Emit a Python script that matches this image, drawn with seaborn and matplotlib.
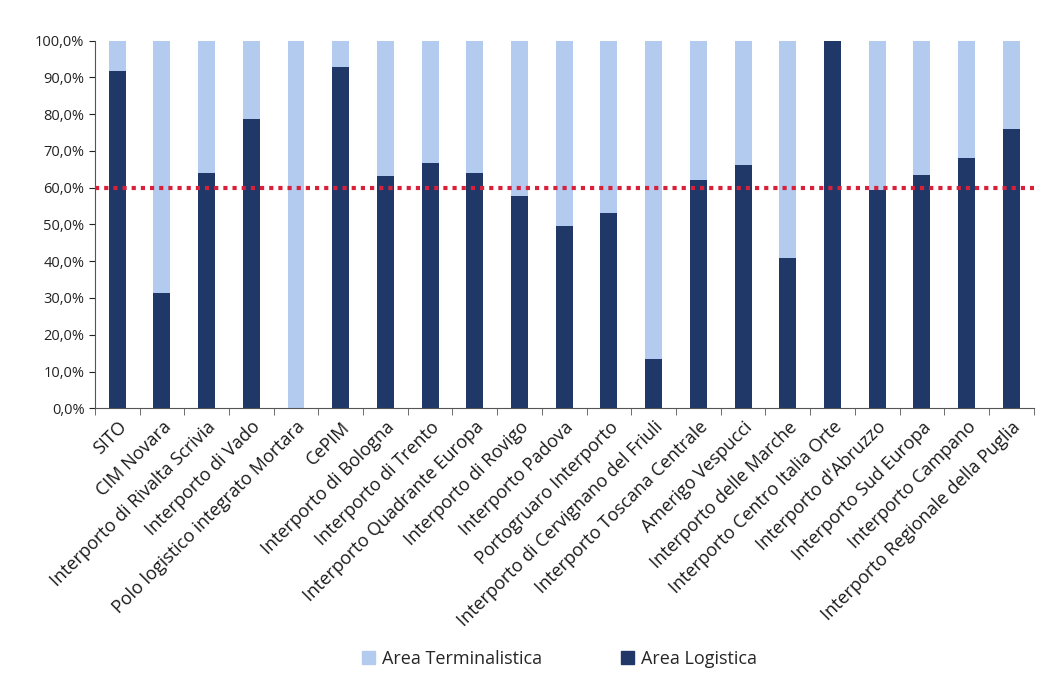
import matplotlib
matplotlib.use("Agg")
import matplotlib.pyplot as plt
from matplotlib.ticker import FuncFormatter, FixedLocator
from matplotlib.patches import Patch
import seaborn as sns
import pandas as pd

interporti = [
    "SITO", "CIM Novara", "Interporto di Rivalta Scrivia", "Interporto di Vado",
    "Polo logistico integrato Mortara", "CePIM", "Interporto di Bologna",
    "Interporto di Trento", "Interporto Quadrante Europa", "Interporto di Rovigo",
    "Interporto Padova", "Portogruaro Interporto", "Interporto di Cervignano del Friuli",
    "Interporto Toscana Centrale", "Amerigo Vespucci", "Interporto delle Marche",
    "Interporto Centro Italia Orte", "Interporto d'Abruzzo", "Interporto Sud Europa",
    "Interporto Campano", "Interporto Regionale della Puglia",
]
area_logistica = [91.6, 31.3, 64.1, 78.8, 0.0, 92.9, 63.3, 66.6, 63.9, 57.7, 49.5,
                  53.2, 13.3, 62.0, 66.2, 40.8, 100.0, 59.3, 63.5, 68.1, 75.9]
area_terminalistica = [100.0 - v for v in area_logistica]
soglia = 60.0

col_term = "#b3cbef"
col_log = "#1f3868"

df = pd.DataFrame({
    "interporto": interporti,
    "logistica": area_logistica,
    "totale": [a + b for a, b in zip(area_logistica, area_terminalistica)],
})

sns.set_style("white")
plt.rcParams["font.family"] = ["Open Sans", "DejaVu Sans"]

fig, ax = plt.subplots(figsize=(10.42, 6.76), dpi=100)
fig.subplots_adjust(left=0.091, right=0.992, top=0.94, bottom=0.396)

sns.barplot(data=df, x="interporto", y="totale", color=col_term, width=0.38,
            saturation=1, ax=ax, edgecolor="none")
sns.barplot(data=df, x="interporto", y="logistica", color=col_log, width=0.38,
            saturation=1, ax=ax, edgecolor="none")

ax.axhline(soglia, color="#d8203a", lw=3, ls=(0, (1, 1.2)), zorder=5)

ax.set_ylim(0, 100)
ax.set_xlim(-0.5, len(interporti) - 0.5)
ax.set_yticks(range(0, 101, 10))
ax.yaxis.set_major_formatter(FuncFormatter(lambda v, p: f"{v:.1f}%".replace(".", ",")))
ax.set_xlabel("")
ax.set_ylabel("")
ax.set_xticks(range(len(interporti)))
ax.set_xticklabels(interporti, rotation=45, ha="right", rotation_mode="anchor",
                   fontsize=13, color="#1a1a1a")
ax.tick_params(axis="x", length=0, pad=7)
ax.tick_params(axis="y", labelsize=10.5, colors="#222222", length=4, left=True)

# category separator ticks on the x axis
ax.xaxis.set_minor_locator(FixedLocator([i + 0.5 for i in range(-1, len(interporti))]))
ax.tick_params(axis="x", which="minor", length=5, direction="out", bottom=True,
               color="#555555")

for side in ["top", "right"]:
    ax.spines[side].set_visible(False)
for side in ["left", "bottom"]:
    ax.spines[side].set_color("#555555")
    ax.spines[side].set_linewidth(0.8)

handles = [Patch(color=col_term, label="Area Terminalistica"),
           Patch(color=col_log, label="Area Logistica")]
fig.legend(handles=handles, loc="lower center", bbox_to_anchor=(0.537, -0.012), ncol=2,
           frameon=False, fontsize=13, handlelength=0.7, handleheight=0.7,
           columnspacing=4.4, handletextpad=0.4)

fig.savefig("out.png", dpi=100)
